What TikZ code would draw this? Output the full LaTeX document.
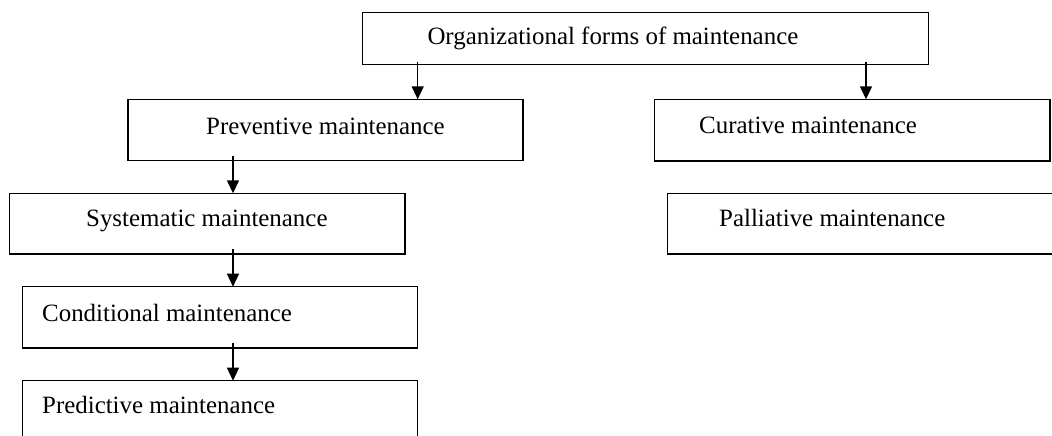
\documentclass[tikz,border=0pt]{standalone}
\usepackage{fontspec}
\setmainfont{Liberation Serif}
\usetikzlibrary{arrows.meta}
\begin{document}
\begin{tikzpicture}[x=1pt,y=-1pt,
  box/.style={draw=black, line width=1.5pt, inner sep=0pt, outer sep=0pt, anchor=north west, fill=none},
  lbl/.style={anchor=base west, inner sep=0pt, font=\fontsize{24.9}{29}\selectfont},
  arr/.style={line width=1.4pt, -{Triangle[length=13pt,width=12pt]}}]
\useasboundingbox (0,0) rectangle (1052,436);
\clip (0,0) rectangle (1052,436);
% boxes
\node[box, minimum width=566pt, minimum height=52pt] (org) at (362.7,12.3) {};
\node[box, minimum width=395pt, minimum height=61.4pt] (prev) at (128,99.3) {};
\node[box, minimum width=395.5pt, minimum height=61.7pt] (cur) at (654.5,99.3) {};
\node[box, minimum width=395.7pt, minimum height=60.7pt] (sys) at (9.3,193.3) {};
\node[box, minimum width=402.3pt, minimum height=60.7pt] (pal) at (667.7,193.3) {};
\node[box, minimum width=395pt, minimum height=61.3pt] (cond) at (22.7,286.7) {};
\node[box, minimum width=395pt, minimum height=90pt] (pred) at (22.7,380.7) {};
% labels
\node[lbl] (orgt) at (427.3,44.3) {Organizational forms of maintenance};
\node[lbl] (prevt) at (206,134) {Preventive maintenance};
\node[lbl] (curt) at (699,133.3) {Curative maintenance};
\node[lbl] (syst) at (86,226.7) {Systematic maintenance};
\node[lbl] (palt) at (719,226.7) {Palliative maintenance};
\node[lbl] (condt) at (42,321) {Conditional maintenance};
\node[lbl] (predt) at (42,413.3) {Predictive maintenance};
% connectors
\coordinate (a1) at (417.7,61.7);
\coordinate (a2) at (866,61.7);
\coordinate (a3) at (233,155.7);
\coordinate (a4) at (233,249);
\coordinate (a5) at (233,342.7);
\draw[arr] (a1) -- (a1 |- prev.north);
\draw[arr] (a2) -- (a2 |- cur.north);
\draw[arr] (a3) -- (a3 |- sys.north);
\draw[arr] (a4) -- (a4 |- cond.north);
\draw[arr] (a5) -- (a5 |- pred.north);
\end{tikzpicture}
\end{document}
